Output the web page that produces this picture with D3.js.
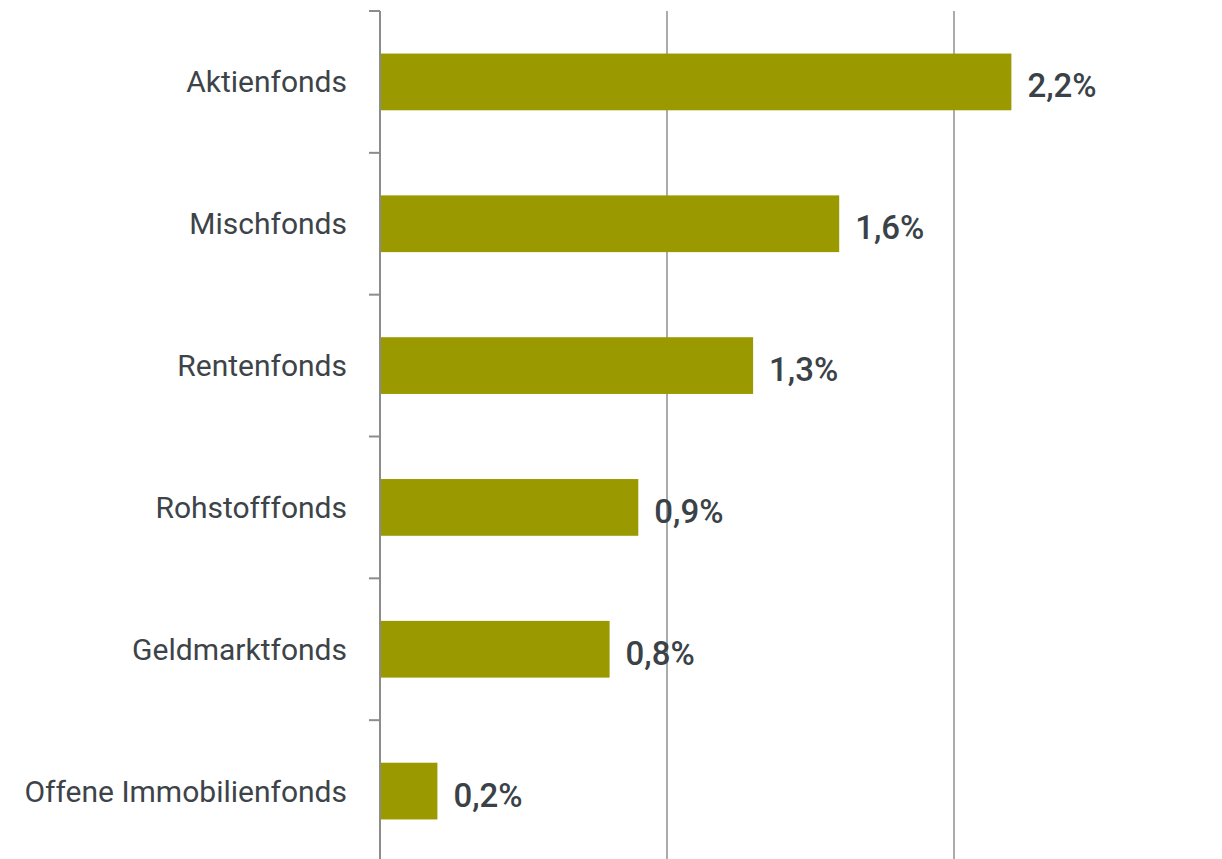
<!DOCTYPE html>
<html>
<head>
<meta charset="utf-8">
<script src="https://cdn.jsdelivr.net/npm/d3@7"></script>
<style>
  body { margin: 0; background: #fff; }
  text { font-family: Roboto, "Noto Sans", sans-serif; }
</style>
</head>
<body>
<div id="chart"></div>
<script>
// Fondskategorien und Werte (in %)
const categories = ["Aktienfonds", "Mischfonds", "Rentenfonds", "Rohstofffonds", "Geldmarktfonds", "Offene Immobilienfonds"];
const values = [2.2, 1.6, 1.3, 0.9, 0.8, 0.2];
const gridTicks = [1, 2];

let width = 1222,
    height = 859;

let svg = d3.select("#chart")
    .append("svg")
    .attr("width", width)
    .attr("height", height);

let x = d3.scaleLinear()
    .domain([0, 3])
    .range([380, 1241]);

let y = d3.scaleBand()
    .domain(categories)
    .range([11, 862])
    .paddingInner(0.6)
    .paddingOuter(0.3);

let step = y.step();
let fmt = v => d3.format(".1f")(v).replace(".", ",") + "%";

// gridlines
svg.selectAll(".grid")
    .data(gridTicks)
    .enter().append("line")
    .attr("class", "grid")
    .attr("x1", d => x(d))
    .attr("x2", d => x(d))
    .attr("y1", 11)
    .attr("y2", height)
    .attr("stroke", "#8f8f8f")
    .attr("stroke-width", 1.5);

// bars
svg.selectAll(".bar")
    .data(values)
    .enter().append("rect")
    .attr("class", "bar")
    .attr("x", x(0) + 1)
    .attr("y", (d, i) => y(categories[i]))
    .attr("width", d => x(d) - x(0) - 1)
    .attr("height", y.bandwidth())
    .attr("fill", "#9a9a00");

// y axis line + ticks at band boundaries
svg.append("line")
    .attr("x1", x(0)).attr("x2", x(0))
    .attr("y1", 11).attr("y2", height)
    .attr("stroke", "#8c8c8c")
    .attr("stroke-width", 2);

svg.selectAll(".tick")
    .data(categories)
    .enter().append("line")
    .attr("class", "tick")
    .attr("x1", x(0) - 11)
    .attr("x2", x(0))
    .attr("y1", d => y(d) - step * 0.3)
    .attr("y2", d => y(d) - step * 0.3)
    .attr("stroke", "#8c8c8c")
    .attr("stroke-width", 2);

// category labels
svg.selectAll(".cat")
    .data(categories)
    .enter().append("text")
    .attr("class", "cat")
    .attr("x", x(0) - 33)
    .attr("y", d => y(d) + y.bandwidth() / 2)
    .attr("dy", "0.35em")
    .attr("text-anchor", "end")
    .attr("fill", "#3d4449")
    .style("font-size", "30px")
    .text(d => d);

// value labels
svg.selectAll(".val")
    .data(values)
    .enter().append("text")
    .attr("class", "val")
    .attr("x", d => x(d) + 16)
    .attr("y", (d, i) => y(categories[i]) + y.bandwidth() / 2 + 4)
    .attr("dy", "0.35em")
    .attr("fill", "#3a4247")
    .style("font-size", "33px")
    .style("font-weight", 500)
    .text(d => fmt(d));
</script>
</body>
</html>
